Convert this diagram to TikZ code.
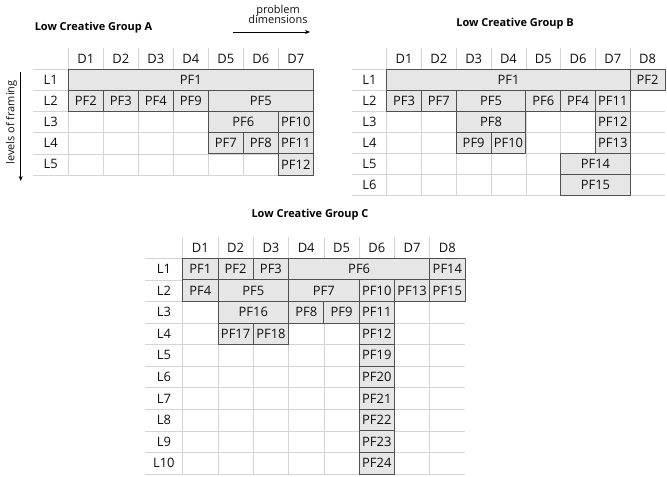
\documentclass[tikz,border=0pt]{standalone}
\usepackage{fontspec}
\setmainfont{Open Sans}
\usetikzlibrary{arrows.meta}
\definecolor{pffill}{RGB}{231,230,230}
\definecolor{pfline}{RGB}{80,80,80}
\definecolor{gridc}{RGB}{212,212,212}
\definecolor{txt}{RGB}{15,15,15}
\tikzset{
  pfbox/.style={draw=pfline, fill=pffill, line width=0.8bp, inner sep=0pt, outer sep=0pt, text=txt, font=\fontsize{13}{15}\selectfont},
  gridline/.style={draw=gridc, line width=0.7bp},
  hdr/.style={text=txt, font=\fontsize{13}{15}\selectfont, inner sep=0pt},
  title/.style={text=black, font=\bfseries\fontsize{11}{13}\selectfont, inner sep=0pt},
  axislbl/.style={text=txt, font=\fontsize{11}{12}\selectfont, inner sep=0pt, align=center},
  axisarrow/.style={-{Stealth[length=5bp,width=4bp]}, line width=0.8bp, draw=black}
}
% group parameters: \gx left of D1, \gw column width, \gy top of L1, \gh row height
\newcommand\pfcell[5]{% name, column, span, row, text
  \node[pfbox, anchor=north west, minimum width={(#3*\gw)*1bp}, minimum height={\gh*1bp}]
    (#1) at ({\gx+(#2-1)*\gw},{\gy+(#4-1)*\gh}) {#5};
}
% grid: #1 number of columns, #2 number of rows, #3 label column left, #4 header top, #5 group prefix
\newcommand\pfgrid[5]{%
  \foreach \i in {0,...,\numexpr#1-1\relax}{
    \draw[gridline] ({\gx+\i*\gw},#4) -- ({\gx+\i*\gw},{\gy+#2*\gh});
  }
  \foreach \j in {0,...,#2}{
    \draw[gridline] (#3,{\gy+\j*\gh}) -- ({\gx+#1*\gw},{\gy+\j*\gh});
  }
  \foreach \i in {1,...,#1}{
    \node[hdr] (#5-D\i) at ({\gx+(\i-0.5)*\gw},{(#4+\gy)/2}) {D\i};
  }
  \foreach \j in {1,...,#2}{
    \node[hdr] (#5-L\j) at ({(#3+\gx)/2},{\gy+(\j-0.5)*\gh}) {L\j};
  }
}
\begin{document}
\begin{tikzpicture}[x=1bp,y=-1bp]
\useasboundingbox (0,0) rectangle (667,477);

% ---------------- Group A ----------------
\def\gx{68.3}\def\gw{35}\def\gy{69.3}\def\gh{21.14}
\node[title] (titleA) at (93.5,28) {Low Creative Group A};
\pfgrid{7}{5}{33}{48}{A}
\pfcell{A-PF1}{1}{7}{1}{PF1}
\pfcell{A-PF2}{1}{1}{2}{PF2}
\pfcell{A-PF3}{2}{1}{2}{PF3}
\pfcell{A-PF4}{3}{1}{2}{PF4}
\pfcell{A-PF9}{4}{1}{2}{PF9}
\pfcell{A-PF5}{5}{3}{2}{PF5}
\pfcell{A-PF6}{5}{2}{3}{PF6}
\pfcell{A-PF10}{7}{1}{3}{PF10}
\pfcell{A-PF7}{5}{1}{4}{PF7}
\pfcell{A-PF8}{6}{1}{4}{PF8}
\pfcell{A-PF11}{7}{1}{4}{PF11}
\pfcell{A-PF12}{7}{1}{5}{PF12}

% axis labels
\node[axislbl] (probdim) at (278,14.5) {problem\\[-2.5bp]dimensions};
\coordinate (pdA) at (233,32);
\coordinate (pdB) at (310,32);
\draw[axisarrow] (pdA) -- (pdB);
\node[axislbl, rotate=90] (levels) at (11.5,122.5) {levels of framing};
\coordinate (lvA) at (20.7,72);
\coordinate (lvB) at (20.7,181);
\draw[axisarrow] (lvA) -- (lvB);

% ---------------- Group B ----------------
\def\gx{386.7}\def\gw{34.79}\def\gy{69.3}\def\gh{20.95}
\node[title] (titleB) at (515,24) {Low Creative Group B};
\pfgrid{8}{6}{352}{48}{B}
\pfcell{B-PF1}{1}{7}{1}{PF1}
\pfcell{B-PF2}{8}{1}{1}{PF2}
\pfcell{B-PF3}{1}{1}{2}{PF3}
\pfcell{B-PF7}{2}{1}{2}{PF7}
\pfcell{B-PF5}{3}{2}{2}{PF5}
\pfcell{B-PF6}{5}{1}{2}{PF6}
\pfcell{B-PF4}{6}{1}{2}{PF4}
\pfcell{B-PF11}{7}{1}{2}{PF11}
\pfcell{B-PF8}{3}{2}{3}{PF8}
\pfcell{B-PF12}{7}{1}{3}{PF12}
\pfcell{B-PF9}{3}{1}{4}{PF9}
\pfcell{B-PF10}{4}{1}{4}{PF10}
\pfcell{B-PF13}{7}{1}{4}{PF13}
\pfcell{B-PF14}{6}{2}{5}{PF14}
\pfcell{B-PF15}{6}{2}{6}{PF15}

% ---------------- Group C ----------------
\def\gx{182.7}\def\gw{35.29}\def\gy{258.3}\def\gh{21.57}
\node[title] (titleC) at (310,215) {Low Creative Group C};
\pfgrid{8}{10}{145}{237}{C}
\pfcell{C-PF1}{1}{1}{1}{PF1}
\pfcell{C-PF2}{2}{1}{1}{PF2}
\pfcell{C-PF3}{3}{1}{1}{PF3}
\pfcell{C-PF6}{4}{4}{1}{PF6}
\pfcell{C-PF14}{8}{1}{1}{PF14}
\pfcell{C-PF4}{1}{1}{2}{PF4}
\pfcell{C-PF5}{2}{2}{2}{PF5}
\pfcell{C-PF7}{4}{2}{2}{PF7}
\pfcell{C-PF10}{6}{1}{2}{PF10}
\pfcell{C-PF13}{7}{1}{2}{PF13}
\pfcell{C-PF15}{8}{1}{2}{PF15}
\pfcell{C-PF16}{2}{2}{3}{PF16}
\pfcell{C-PF8}{4}{1}{3}{PF8}
\pfcell{C-PF9}{5}{1}{3}{PF9}
\pfcell{C-PF11}{6}{1}{3}{PF11}
\pfcell{C-PF17}{2}{1}{4}{PF17}
\pfcell{C-PF18}{3}{1}{4}{PF18}
\pfcell{C-PF12}{6}{1}{4}{PF12}
\pfcell{C-PF19}{6}{1}{5}{PF19}
\pfcell{C-PF20}{6}{1}{6}{PF20}
\pfcell{C-PF21}{6}{1}{7}{PF21}
\pfcell{C-PF22}{6}{1}{8}{PF22}
\pfcell{C-PF23}{6}{1}{9}{PF23}
\pfcell{C-PF24}{6}{1}{10}{PF24}
\end{tikzpicture}
\end{document}
